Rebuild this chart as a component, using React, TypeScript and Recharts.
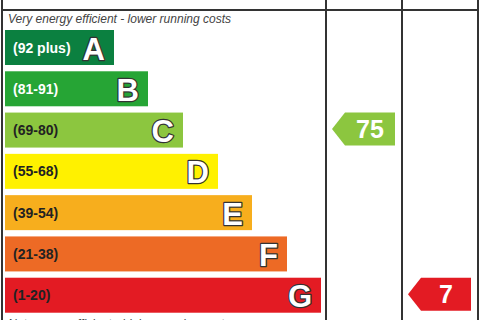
import React from 'react';
import { BarChart, Bar, XAxis, YAxis } from 'recharts';

// rating bands, top (best) to bottom (worst)
const bands = ['A', 'B', 'C', 'D', 'E', 'F', 'G'];
const ranges = ['(92 plus)', '(81-91)', '(69-80)', '(55-68)', '(39-54)', '(21-38)', '(1-20)'];
const barLengths = [109, 143, 178, 213, 247, 282, 316];
const bandColors = ['#0b8040', '#26a535', '#8cc63f', '#fff100', '#f7ae1d', '#ed6a25', '#e31b23'];
const rangeTextColors = ['#ffffff', '#ffffff', '#222222', '#222222', '#222222', '#222222', '#222222'];

const currentRating = 75;
const currentBand = 'C';
const potentialRating = 7;
const potentialBand = 'G';

const data = bands.map((band, i) => ({
  band,
  range: ranges[i],
  length: barLengths[i],
  color: bandColors[i],
  textColor: rangeTextColors[i],
  current: band === currentBand ? currentRating : null,
  potential: band === potentialBand ? potentialRating : null,
}));

const W = 480;
const H = 320;
const LINE = '#333';
// table columns (Current / Potential)
const COL_CURRENT = [326, 402];
const COL_POTENTIAL = [402, 478];

const BandBar = (props: any) => {
  const { x, y, width, height, payload } = props;
  const cy = y + height / 2;
  return (
    <g>
      <rect x={x} y={y} width={width} height={height} fill={payload.color} />
      <text x={x + 8} y={cy + 5} fontSize={14} fontWeight="bold" fill={payload.textColor}
        fontFamily="'Liberation Sans', Arial, sans-serif">
        {payload.range}
      </text>
      <text x={x + width - 9} y={cy + 12} textAnchor="end" fontSize={31} fontWeight="bold"
        fill="#fff" stroke="#333" strokeWidth={2.5} paintOrder="stroke" strokeLinejoin="round"
        fontFamily="'Liberation Sans', Arial, sans-serif">
        {payload.band}
      </text>
    </g>
  );
};

const makeArrow = (key: 'current' | 'potential', col: number[]) => (props: any) => {
  const { y, payload } = props;
  const value = payload[key];
  if (value == null) return <g />;
  const left = col[0] + 6;
  const right = col[1] - 7;
  const h = 33;
  const notch = 13;
  const pts = [
    [left, y + h / 2], [left + notch, y], [right, y], [right, y + h], [left + notch, y + h],
  ].map((p) => p.join(',')).join(' ');
  return (
    <g>
      <polygon points={pts} fill={payload.color} />
      <text x={(left + notch + right) / 2} y={y + h / 2 + 8.5} textAnchor="middle" fontSize={25}
        fontWeight="bold" fill="#fff" fontFamily="'Liberation Sans', Arial, sans-serif">
        {value}
      </text>
    </g>
  );
};

const line = (style: React.CSSProperties): React.CSSProperties => ({
  position: 'absolute', background: LINE, ...style,
});

export default function App() {
  return (
    <div style={{ position: 'fixed', left: 0, top: 0, width: W, height: H, background: '#fff', overflow: 'hidden',
      fontFamily: "'Liberation Sans', Arial, sans-serif" }}>
      <div style={{ position: 'absolute', left: 8, top: 12, fontSize: 12, fontStyle: 'italic', color: '#444', whiteSpace: 'nowrap' }}>
        Very energy efficient - lower running costs
      </div>
      <div style={{ position: 'absolute', left: 8, top: 317, fontSize: 12, fontStyle: 'italic', color: '#444', whiteSpace: 'nowrap' }}>
        Not energy efficient - higher running costs
      </div>

      <div style={{ position: 'absolute', left: 0, top: 0 }}>
        <BarChart width={W} height={H} data={data} layout="vertical"
          margin={{ top: 27, right: 0, bottom: 4, left: 5 }} barSize={35}>
          <XAxis type="number" domain={[0, 475]} allowDataOverflow hide />
          <YAxis type="category" dataKey="band" hide />
          <Bar dataKey="length" stackId="s" shape={BandBar} isAnimationActive={false} />
          <Bar dataKey="current" stackId="s" shape={makeArrow('current', COL_CURRENT)} isAnimationActive={false} />
          <Bar dataKey="potential" stackId="s" shape={makeArrow('potential', COL_POTENTIAL)} isAnimationActive={false} />
        </BarChart>
      </div>

      {/* table frame */}
      <div style={line({ left: 1, top: 9, width: 478, height: 1.5 })} />
      <div style={line({ left: 1, top: 0, width: 1.5, height: H })} />
      <div style={line({ left: COL_CURRENT[0] - 1, top: 0, width: 1.5, height: H })} />
      <div style={line({ left: COL_POTENTIAL[0] - 1, top: 0, width: 1.5, height: H })} />
      <div style={line({ left: COL_POTENTIAL[1] - 1, top: 0, width: 1.5, height: H })} />
    </div>
  );
}
